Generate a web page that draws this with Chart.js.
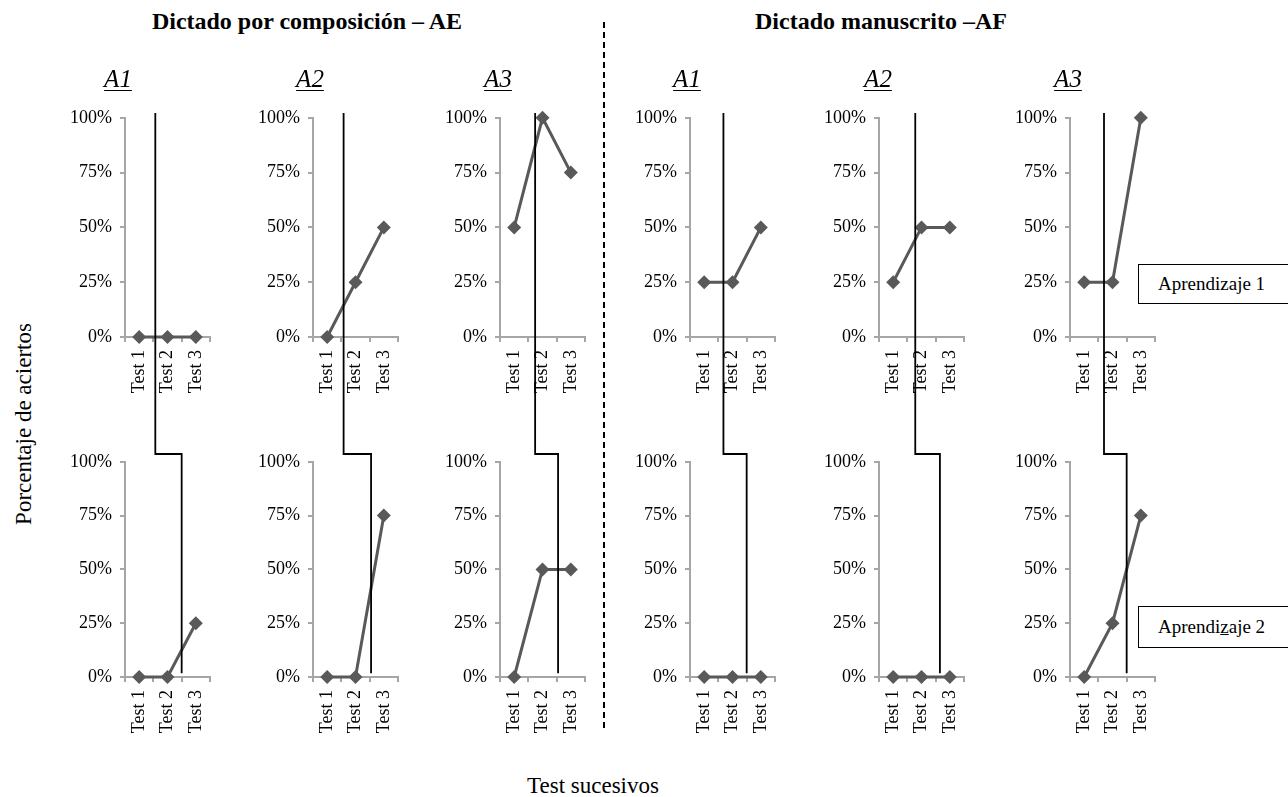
<!DOCTYPE html>
<html>
<head>
<meta charset="utf-8">
<script src="https://cdn.jsdelivr.net/npm/chart.js@4"></script>
<style>
  body { margin: 0; background: #fff; }
  #page { position: relative; width: 1288px; height: 797px; overflow: hidden; font-family: "Liberation Serif", "Times New Roman", serif; color: #000; }
  .panel { position: absolute; }
  .txt { position: absolute; white-space: nowrap; }
  .head { font-weight: bold; font-size: 24px; transform: translate(-50%, -50%); }
  .alab { font-style: italic; font-size: 25px; text-decoration: underline; text-decoration-thickness: 1px; text-underline-offset: 3px; transform: translate(-50%, -50%); }
  .box { position: absolute; border: 1.5px solid #000; background: #fff; font-size: 19px; box-sizing: border-box; padding-left: 19px; }
  #overlay { position: absolute; left: 0; top: 0; pointer-events: none; }
</style>
</head>
<body>
<div id="page">
  <div class="txt head" style="left:307px; top:21px;">Dictado por composición – AE</div>
  <div class="txt head" style="left:881px; top:21px;">Dictado manuscrito –AF</div>
  <div class="txt" style="left:24px; top:424px; font-size:23px; transform: translate(-50%, -50%) rotate(-90deg);">Porcentaje de aciertos</div>
  <div class="txt" style="left:593px; top:786px; font-size:23px; transform: translate(-50%, -50%);">Test sucesivos</div>
  <div style="position:absolute; left:603px; top:22px; height:706px; border-left:2px dashed #000;"></div>
  <div class="box" style="left:1138px; top:264px; width:160px; height:40px; line-height:37px;">Aprendizaje 1</div>
  <div class="box" style="left:1138px; top:606px; width:160px; height:42px; line-height:39px;">Aprendi<u>z</u>aje 2</div>
  <canvas id="overlay" width="1288" height="797"></canvas>
</div>
<script>
'use strict';
// data
var tests = ['Test 1', 'Test 2', 'Test 3'];
var panelNames = ['A1', 'A2', 'A3', 'A1', 'A2', 'A3'];
var yTicks = [0, 25, 50, 75, 100];
var aprendizaje1 = [[0, 0, 0], [0, 25, 50], [50, 100, 75], [25, 25, 50], [25, 50, 50], [25, 25, 100]];
var aprendizaje2 = [[0, 0, 25], [0, 0, 75], [0, 50, 50], [0, 0, 0], [0, 0, 0], [0, 25, 75]];
// where the phase change falls (in test positions)
var phaseChange1 = [0.57, 0.58, 0.74, 0.68, 0.78, 0.7];
var phaseChange2 = [1.5, 1.55, 1.55, 1.5, 1.65, 1.5];

// layout
var colX = [125, 313, 500, 690, 879, 1070];
var labelX = [118, 310, 498, 687, 878, 1068];
var plotW = 85;
var rowTop = [118, 462];
var rowH = [219, 215];

Chart.defaults.font.family = '"Liberation Serif", "Times New Roman", serif';
Chart.defaults.font.size = 18;
Chart.defaults.color = '#000';

var page = document.getElementById('page');
var charts = [[], []];

function panelConfig(values) {
  return {
    type: 'line',
    data: {
      labels: tests,
      datasets: [{
        data: values,
        borderColor: '#595959',
        backgroundColor: '#595959',
        borderWidth: 3,
        pointStyle: 'rectRot',
        pointRadius: 7,
        pointBorderWidth: 0,
        pointBackgroundColor: '#595959',
        clip: false,
        tension: 0
      }]
    },
    options: {
      responsive: false,
      animation: false,
      layout: { padding: { top: 12, right: 26, left: 12, bottom: 0 } },
      plugins: { legend: { display: false }, tooltip: { enabled: false } },
      scales: {
        x: {
          offset: true,
          afterFit: function (s) { s.height = 75; },
          border: { color: '#a6a6a6', width: 2 },
          grid: { offset: true, drawOnChartArea: false, tickLength: 5, color: '#a6a6a6', lineWidth: 2 },
          ticks: { minRotation: 90, maxRotation: 90, padding: 8, color: '#000' }
        },
        y: {
          min: 0,
          max: 100,
          afterFit: function (s) { s.width = 64; },
          afterBuildTicks: function (s) { s.ticks = yTicks.map(function (v) { return { value: v }; }); },
          border: { color: '#a6a6a6', width: 2 },
          grid: { drawOnChartArea: false, tickLength: 5, color: '#a6a6a6', lineWidth: 2 },
          ticks: { padding: 8, color: '#000', callback: function (v) { return v + '%'; } }
        }
      }
    }
  };
}

function makePanel(row, col, values) {
  var cv = document.createElement('canvas');
  cv.className = 'panel';
  var w = 12 + 64 + plotW + 26, h = 12 + rowH[row] + 75;
  cv.width = w;
  cv.height = h;
  page.insertBefore(cv, document.getElementById('overlay'));
  var chart = new Chart(cv.getContext('2d'), panelConfig(values));
  // make the plot area exactly the size the grid wants
  var dw = plotW - (chart.chartArea.right - chart.chartArea.left);
  var dh = rowH[row] - (chart.chartArea.bottom - chart.chartArea.top);
  if (Math.abs(dw) > 0.5 || Math.abs(dh) > 0.5) {
    chart.destroy();
    cv.width = w + Math.round(dw);
    cv.height = h + Math.round(dh);
    chart = new Chart(cv.getContext('2d'), panelConfig(values));
  }
  // line the plot area up with its column
  var ca = chart.chartArea;
  chart.pageLeft = colX[col] - ca.left;
  chart.pageTop = rowTop[row] - ca.top;
  cv.style.left = chart.pageLeft + 'px';
  cv.style.top = chart.pageTop + 'px';
  return chart;
}

for (var c = 0; c < 6; c++) {
  charts[0].push(makePanel(0, c, aprendizaje1[c]));
  charts[1].push(makePanel(1, c, aprendizaje2[c]));
  var lab = document.createElement('div');
  lab.className = 'txt alab';
  lab.style.left = labelX[c] + 'px';
  lab.style.top = '79px';
  lab.textContent = panelNames[c];
  page.appendChild(lab);
}

// phase change lines, taken from each panel's x scale
function xAt(chart, pos) {
  var x = chart.scales.x;
  var x0 = x.getPixelForValue(0), x1 = x.getPixelForValue(1);
  return chart.pageLeft + x0 + pos * (x1 - x0);
}
var octx = document.getElementById('overlay').getContext('2d');
octx.strokeStyle = '#000';
octx.lineWidth = 1.8;
for (var k = 0; k < 6; k++) {
  var upper = charts[0][k], lower = charts[1][k];
  var xa = xAt(upper, phaseChange1[k]);
  var xb = xAt(lower, phaseChange2[k]);
  var yStart = upper.pageTop + upper.chartArea.top - 5;
  var yStep = lower.pageTop + lower.chartArea.top - 8;
  var yEnd = lower.pageTop + lower.chartArea.bottom - 4;
  octx.beginPath();
  octx.moveTo(xa, yStart);
  octx.lineTo(xa, yStep);
  octx.lineTo(xb, yStep);
  octx.lineTo(xb, yEnd);
  octx.stroke();
}
</script>
</body>
</html>
